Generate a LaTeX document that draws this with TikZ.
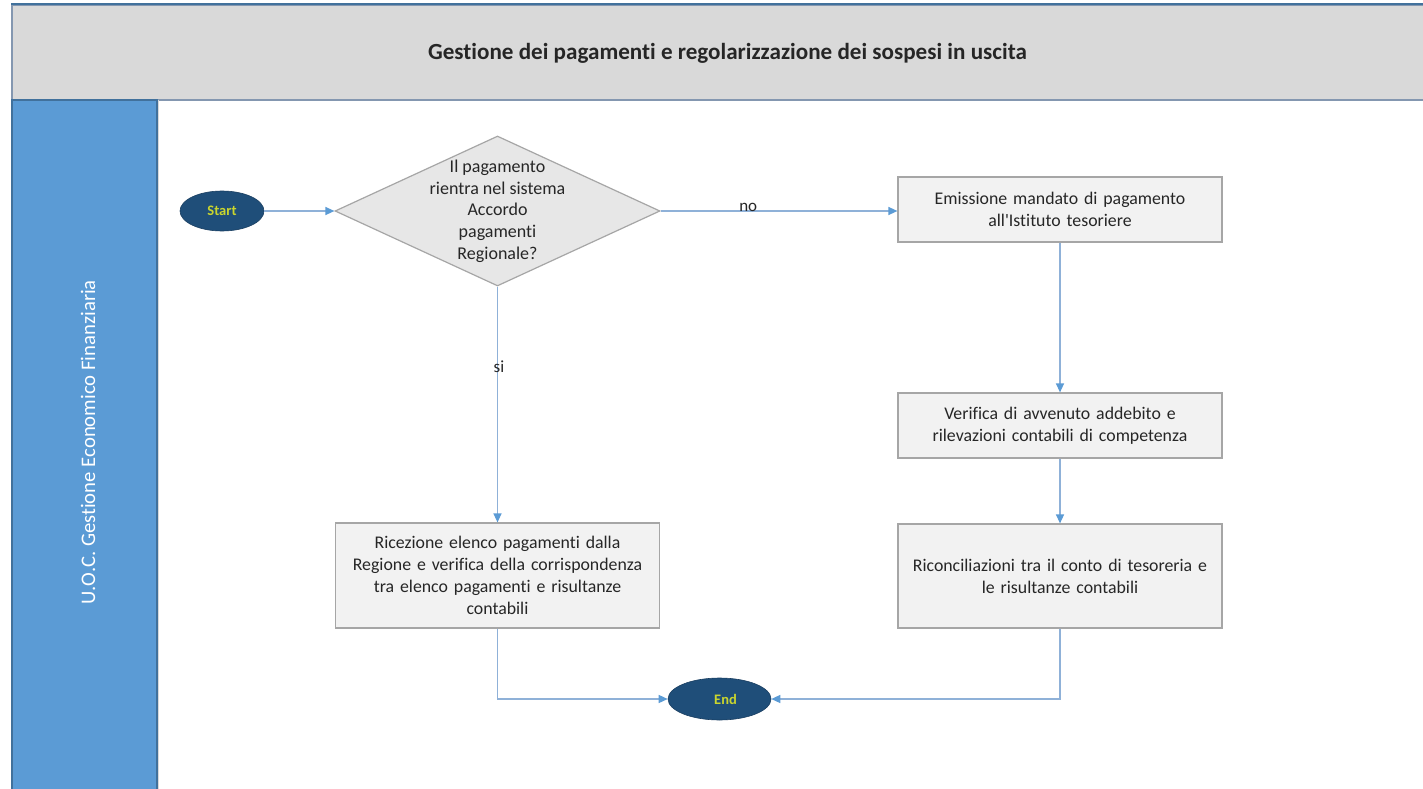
\documentclass[tikz,border=0pt]{standalone}
\usepackage{fontspec}
\setmainfont{Carlito}[Ligatures={NoCommon}]
\usetikzlibrary{shapes.geometric,arrows.meta}
\definecolor{lane}{HTML}{5B9BD5}
\definecolor{hdr}{HTML}{D9D9D9}
\definecolor{frame}{HTML}{41719C}
\definecolor{hdrline}{HTML}{8497B0}
\definecolor{term}{HTML}{1F4E79}
\definecolor{termtxt}{HTML}{C9D52E}
\definecolor{boxfill}{HTML}{F2F2F2}
\definecolor{boxline}{HTML}{A6A6A6}
\definecolor{decfill}{HTML}{E7E7E7}
\definecolor{conn}{HTML}{8FB1D8}
\definecolor{tipc}{HTML}{5B9BD5}
\definecolor{txt}{HTML}{262626}
\begin{document}
\begin{tikzpicture}[x=1pt,y=-1pt,
  proc/.style={draw=boxline, fill=boxfill, line width=1.2pt, minimum width=324pt,
    text width=316pt, align=center, inner sep=0pt, text=txt,
    font=\fontsize{17.8}{21.8}\selectfont},
  term/.style={ellipse, fill=term, draw=term!80!black, line width=0.6pt, inner sep=0pt,
    text=termtxt, font=\bfseries\fontsize{14.5}{16}\selectfont},
  conn/.style={draw=conn, line width=1.3pt, -{Triangle[length=9pt,width=8pt,color=tipc]}},
  lbl/.style={text=txt, inner sep=0pt, font=\fontsize{17}{19}\selectfont}
]
\useasboundingbox (0,0) rectangle (1423,789);
\fill[white] (0,0) rectangle (1423,789);
% header
\filldraw[fill=hdr, draw=hdrline, line width=1.5pt] (12,5) rectangle (1426,100);
\draw[frame, line width=2pt] (11,4.5) -- (1426,4.5);
\node[text=txt, font=\bfseries\fontsize{23.1}{26}\selectfont] (title) at (727.5,53)
  {Gestione dei pagamenti e regolarizzazione dei sospesi in uscita};
% lane
\filldraw[fill=lane, draw=frame, line width=1.2pt] (12,100) rectangle (157,792);
\draw[black!15, line width=1pt] (158.5,100) -- (158.5,789);
\node[rotate=90, text=white, font=\fontsize{20.7}{24}\selectfont] (lanelbl) at (88,442)
  {U.O.C. Gestione Economico Finanziaria};
% terminals
\node[term, minimum width=84pt, minimum height=40pt] (start) at (222,211) {Start};
\node[term, minimum width=103pt, minimum height=42pt] (end) at (719.5,699) {\hspace*{12pt}End};
% decision
\node[diamond, draw=boxline, fill=decfill, line width=1.2pt, inner sep=0pt,
  minimum width=325pt, minimum height=150pt, aspect=2.167] (dec) at (497.5,211) {};
\node[align=center, text=txt, font=\fontsize{18}{21.7}\selectfont] (dectxt) at (497.5,211)
  {Il pagamento\\rientra nel sistema\\Accordo\\pagamenti\\Regionale?};
% process boxes
\node[proc, minimum height=65pt] (emi) at (1060,209.5)
  {Emissione mandato di pagamento\\all\textquotesingle Istituto tesoriere};
\node[proc, minimum height=65pt] (ver) at (1060,425.5)
  {Verifica di avvenuto addebito e\\rilevazioni contabili di competenza};
\node[proc, minimum height=104pt] (ric) at (1060,576)
  {Riconciliazioni tra il conto di tesoreria e\\le risultanze contabili};
\node[proc, minimum height=105pt] (rcz) at (497.5,575.5)
  {Ricezione elenco pagamenti dalla\\Regione e verifica della corrispondenza\\tra elenco pagamenti e risultanze\\contabili};
% connectors
\draw[conn] (start.east) -- (dec.west);
\draw[conn] (dec.east) -- node[lbl, pos=0.37, anchor=base] {no} (dec.east -| emi.west);
\draw[conn] (dec.south) -- node[lbl, pos=0.34, xshift=1.5pt] {si} (rcz.north);
\draw[conn] (emi.south) -- (ver.north);
\draw[conn] (ver.south) -- (ric.north);
\draw[conn] (rcz.south) |- (end.west);
\draw[conn] (ric.south) |- (end.east);
\end{tikzpicture}
\end{document}
